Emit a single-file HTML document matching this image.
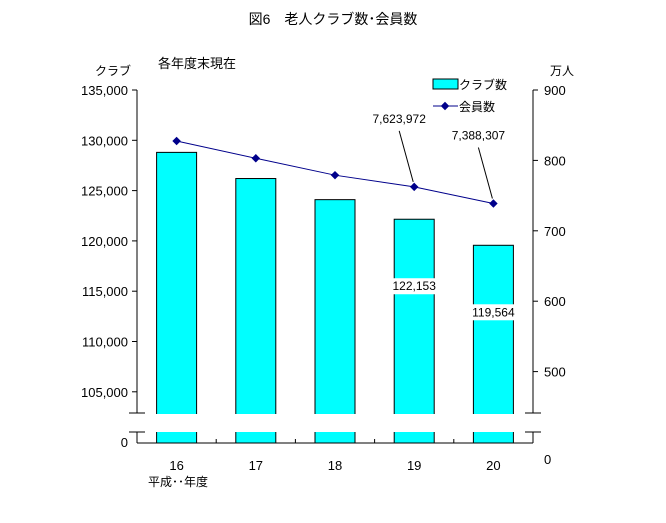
<!DOCTYPE html>
<html><head><meta charset="utf-8"><style>
body{margin:0;background:#fff}
svg{display:block;font-family:"Liberation Sans","Noto Sans CJK JP",sans-serif}
</style></head><body>
<svg id="c" width="666" height="523" xmlns="http://www.w3.org/2000/svg">
<text x="333" y="24" font-size="14" text-anchor="middle">図6　老人クラブ数･会員数</text>
<text x="158" y="68" font-size="13">各年度末現在</text>
<text x="95" y="75" font-size="12">クラブ</text>
<text x="550" y="75" font-size="12">万人</text>
<g id="g"></g>
<g>
<rect x="433" y="79" width="25" height="10" fill="#00ffff" stroke="#000"/>
<text x="459" y="89" font-size="12">クラブ数</text>
<line x1="433" y1="106" x2="458" y2="106" stroke="#00008b"/>
<rect x="442" y="103" width="6" height="6" fill="#00008b" transform="rotate(45 445 106)"/>
<text x="459" y="111" font-size="12">会員数</text>
</g>
</svg>
<script>
const categories=["16","17","18","19","20"];
const clubs=[128800,126200,124100,122153,119564];
const members=[827.6,803,779,762.4,738.8];
const leftTicks=[105000,110000,115000,120000,125000,130000,135000];
const rightTicks=[500,600,700,800,900];
const barLabels=["","","","122,153","119,564"];
const lineLabels=["","","","7,623,972","7,388,307"];
const NS="http://www.w3.org/2000/svg",g=document.getElementById("g");
function el(t,a,txt){const e=document.createElementNS(NS,t);for(const k in a)e.setAttribute(k,a[k]);if(txt!==undefined)e.textContent=txt;g.appendChild(e);return e;}
const X0=137,X1=533,base=443,brk1=413,brk2=432;
const yL=v=>90+(135000-v)*(50.3/5000);
const yR=v=>90+(900-v)*0.704;
const bw=(X1-X0)/categories.length;
const xC=i=>X0+bw*(i+0.5);
const fmt=n=>n.toLocaleString("en-US");
// bars
clubs.forEach((v,i)=>{
 const b=el("rect",{x:xC(i)-20,y:yL(v),width:40,height:base-yL(v),fill:"#00ffff",stroke:"#000","stroke-width":1});
 
 
});
// break gap
const gap=el("rect",{x:X0-10,y:brk1+1,width:X1-X0+20,height:brk2-brk1-1,fill:"#fff"});


// axes
[[X0,90,X0,brk1],[X0,brk2,X0,base],[X1,90,X1,brk1],[X1,brk2,X1,base],[X0,base,X1,base],
 [X0-8,brk1,X0+8,brk1],[X0-8,brk2,X0+8,brk2],[X1-8,brk1,X1+8,brk1],[X1-8,brk2,X1+8,brk2]].forEach(a=>{
 const l=el("line",{x1:a[0],y1:a[1],x2:a[2],y2:a[3],stroke:"#000"});
 
 
});
leftTicks.forEach(v=>{
 el("line",{x1:X0-5,y1:yL(v),x2:X0,y2:yL(v),stroke:"#000"});
 const t=el("text",{x:X0-9,y:yL(v)+5,"font-size":13,"text-anchor":"end"},fmt(v));
 
 
});
const z=el("text",{x:X0-9,y:base+4,"font-size":13,"text-anchor":"end"},"0");


rightTicks.forEach(v=>{
 el("line",{x1:X1,y1:yR(v),x2:X1+5,y2:yR(v),stroke:"#000"});
 const t=el("text",{x:X1+11,y:yR(v)+5,"font-size":13},String(v));
 
 
});
const rz=el("text",{x:544,y:464,"font-size":13},"0");


for(let i=1;i<categories.length;i++)el("line",{x1:X0+bw*i,y1:base-4,x2:X0+bw*i,y2:base,stroke:"#000"});
categories.forEach((c,i)=>{
 const t=el("text",{x:xC(i),y:470,"font-size":13,"text-anchor":"middle"},c);
 
 
});
const xt=el("text",{x:148,y:486,"font-size":12},"平成･･年度");


// bar labels
barLabels.forEach((s,i)=>{ if(!s)return;
 const yy=yL(clubs[i])+71;
 el("rect",{x:xC(i)-24,y:yy-12,width:48,height:16,fill:"#fff"});
 const t=el("text",{x:xC(i),y:yy,"font-size":12,"text-anchor":"middle"},s);
 
 
});
// line
const pts=members.map((v,i)=>xC(i)+","+yR(v)).join(" ");
const pl=el("polyline",{points:pts,fill:"none",stroke:"#00008b","stroke-width":1});


members.forEach((v,i)=>{
 const m=el("rect",{x:xC(i)-3,y:yR(v)-3,width:6,height:6,fill:"#00008b",transform:`rotate(45 ${xC(i)} ${yR(v)})`});
 
 
});
lineLabels.forEach((s,i)=>{ if(!s)return;
 const lx=xC(i)-15, ly=yR(members[i])-64;
 el("line",{x1:lx,y1:ly+8,x2:xC(i)-1,y2:yR(members[i])-5,stroke:"#000"});
 const t=el("text",{x:lx,y:ly,"font-size":12,"text-anchor":"middle"},s);
 
 
});
</script>
</body></html>
